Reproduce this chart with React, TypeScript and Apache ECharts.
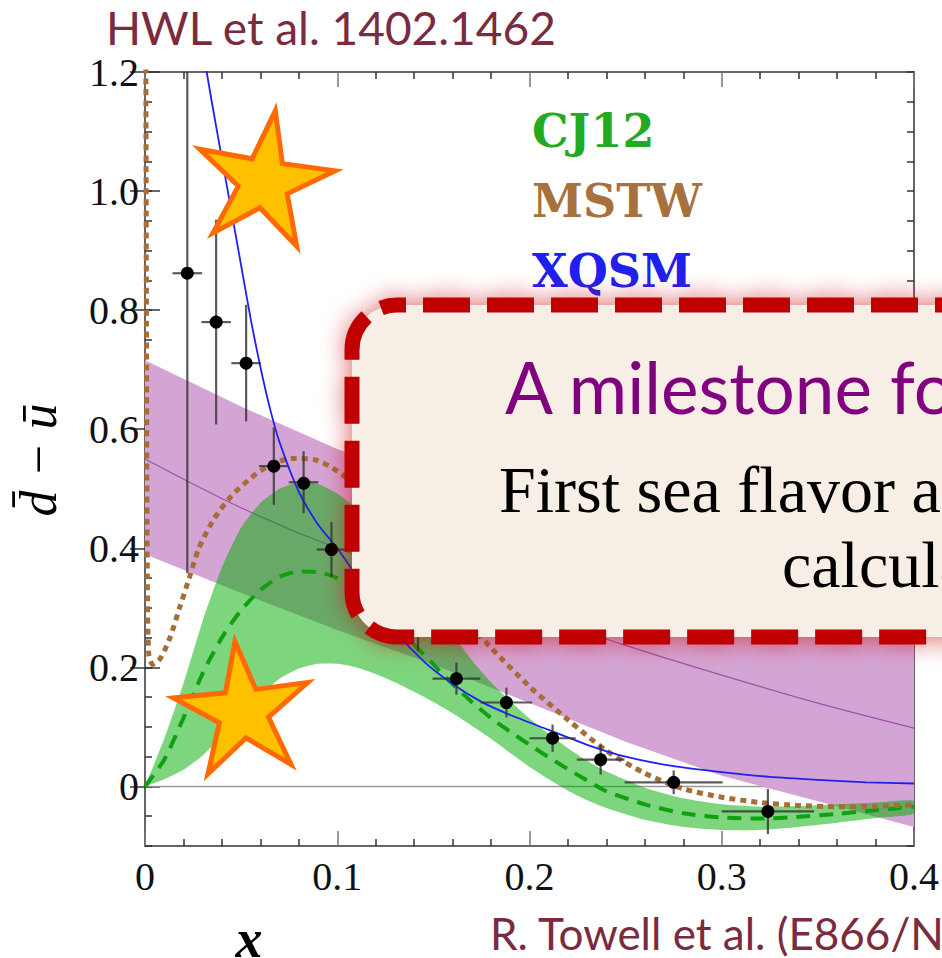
import React, { useEffect, useRef } from 'react';
import * as echarts from 'echarts';

// ---- E866 data points (Towell et al.) ----
const e866X = [0.022, 0.037, 0.0526, 0.067, 0.0825, 0.097, 0.112, 0.127, 0.142, 0.162, 0.188, 0.212, 0.237, 0.275, 0.324];
const e866Y = [0.862, 0.78, 0.711, 0.538, 0.511, 0.398, 0.34, 0.30, 0.262, 0.181, 0.141, 0.081, 0.045, 0.007, -0.042];
const e866YErr = [0.504, 0.172, 0.098, 0.065, 0.052, 0.046, 0.04, 0.037, 0.035, 0.027, 0.025, 0.023, 0.025, 0.02, 0.038];
const e866XErr = [0.0077, 0.0077, 0.0077, 0.0077, 0.0077, 0.0077, 0.0077, 0.0077, 0.0077, 0.0124, 0.0134, 0.012, 0.0124, 0.0255, 0.024];

// ---- CJ12 band ----
const cjX = [0, 0.01, 0.02, 0.03, 0.04, 0.05, 0.06, 0.07, 0.08, 0.09, 0.1, 0.11, 0.12, 0.13, 0.14, 0.15, 0.16, 0.17, 0.18, 0.19, 0.2, 0.21, 0.22, 0.23, 0.24, 0.26, 0.28, 0.3, 0.32, 0.34, 0.36, 0.38, 0.4];
const cjHi = [0, 0.08, 0.173, 0.278, 0.368, 0.435, 0.476, 0.5, 0.511, 0.508, 0.492, 0.466, 0.432, 0.392, 0.348, 0.302, 0.256, 0.212, 0.175, 0.143, 0.114, 0.088, 0.064, 0.043, 0.025, -0.002, -0.02, -0.03, -0.034, -0.033, -0.03, -0.027, -0.024];
const cjLo = [0, 0.012, 0.028, 0.052, 0.085, 0.12, 0.154, 0.181, 0.198, 0.206, 0.206, 0.2, 0.189, 0.175, 0.159, 0.142, 0.123, 0.102, 0.08, 0.056, 0.033, 0.012, -0.007, -0.023, -0.036, -0.056, -0.068, -0.073, -0.073, -0.068, -0.061, -0.053, -0.046];
const cjMid = [0, 0.045, 0.115, 0.19, 0.25, 0.296, 0.33, 0.352, 0.361, 0.36, 0.35, 0.33, 0.302, 0.271, 0.238, 0.205, 0.172, 0.142, 0.115, 0.092, 0.07, 0.049, 0.029, 0.01, -0.008, -0.03, -0.045, -0.052, -0.054, -0.051, -0.046, -0.04, -0.034];

// ---- Lattice (purple) band ----
const latX = [0, 0.05, 0.1, 0.15, 0.2, 0.25, 0.3, 0.35, 0.4];
const latHi = [0.716, 0.638, 0.567, 0.508, 0.455, 0.4, 0.35, 0.305, 0.265];
const latMid = [0.55, 0.468, 0.4, 0.345, 0.292, 0.237, 0.187, 0.14, 0.098];
const latLo = [0.39, 0.325, 0.263, 0.205, 0.14, 0.075, 0.018, -0.025, -0.068];

// ---- MSTW ----
const mstwX = [0.0004, 0.0008, 0.0012, 0.002, 0.004, 0.008, 0.013, 0.018, 0.023, 0.028, 0.036, 0.045, 0.054, 0.063, 0.076, 0.088, 0.096, 0.104, 0.12, 0.14, 0.16, 0.18, 0.2, 0.22, 0.24, 0.26, 0.28, 0.3, 0.32, 0.34, 0.36, 0.38, 0.4];
const mstwY = [1.3, 0.7, 0.35, 0.22, 0.205, 0.215, 0.25, 0.3, 0.35, 0.4, 0.45, 0.488, 0.515, 0.536, 0.551, 0.549, 0.538, 0.52, 0.463, 0.386, 0.306, 0.233, 0.168, 0.112, 0.06, 0.022, -0.004, -0.018, -0.027, -0.032, -0.034, -0.033, -0.031];

// ---- XQSM ----
const xqsmX = [0.03, 0.035, 0.04, 0.045, 0.05, 0.055, 0.06, 0.065, 0.07, 0.08, 0.09, 0.1, 0.115, 0.13, 0.145, 0.16, 0.175, 0.19, 0.21, 0.23, 0.25, 0.275, 0.3, 0.325, 0.35, 0.375, 0.4];
const xqsmY = [1.24, 1.145, 1.055, 0.965, 0.875, 0.785, 0.705, 0.635, 0.578, 0.495, 0.44, 0.4, 0.33, 0.262, 0.21, 0.172, 0.142, 0.12, 0.095, 0.07, 0.05, 0.034, 0.024, 0.016, 0.011, 0.007, 0.005];

const zeroLine = [[0, 0], [0.4, 0]];
const yTickValues = [0, 0.2, 0.4, 0.6, 0.8, 1.0, 1.2];
const legendItems = [
  { name: 'CJ12', color: '#22aa22' },
  { name: 'MSTW', color: '#a8703c' },
  { name: 'XQSM', color: '#2020ee' },
];

function starPoints(cx: number, cy: number, R: number, r: number, rotDeg: number) {
  const pts: number[][] = [];
  for (let i = 0; i < 10; i++) {
    const a = ((-90 + rotDeg + i * 36) * Math.PI) / 180;
    const rad = i % 2 === 0 ? R : r;
    pts.push([cx + rad * Math.cos(a), cy + rad * Math.sin(a)]);
  }
  return pts;
}

const pair = (xs: number[], ys: number[]) => xs.map((x, i) => [x, ys[i]]);

function bandSeries(name: string, xs: number[], lo: number[], hi: number[], color: string, z: number, smooth: number) {
  return {
    type: 'custom', name, xAxisIndex: 0, yAxisIndex: 0, clip: true, silent: true, z,
    data: xs.map((x, i) => [x, lo[i], hi[i]]),
    renderItem: (params: any, api: any) => {
      if (params.dataIndex !== 0) return { type: 'group', children: [] };
      const pts: number[][] = [];
      for (let i = 0; i < xs.length; i++) pts.push(api.coord([xs[i], hi[i]]));
      for (let i = xs.length - 1; i >= 0; i--) pts.push(api.coord([xs[i], lo[i]]));
      return { type: 'polygon', shape: { points: pts, smooth }, style: { fill: color } };
    },
  };
}

export default function App() {
  const ref = useRef<HTMLDivElement>(null);
  useEffect(() => {
    const chart = echarts.init(ref.current!, null, { renderer: 'svg' });
    const tickFont = { fontFamily: 'Liberation Serif', fontSize: 40, color: '#111' };
    const axisLineStyle = { color: '#333', width: 1.5 };
    const fmt = (v: number) => (Math.abs(v) < 1e-9 ? '0' : v.toFixed(1));
    const isMajorY = (v: number) => yTickValues.some((t) => Math.abs(t - v) < 1e-6);

    const xAxisBase = (pos: string, showLabel: boolean) => ({
      type: 'value', min: 0, max: 0.4, interval: 0.1, position: pos,
      axisLine: { show: true, onZero: false, lineStyle: axisLineStyle },
      axisTick: { show: true, inside: true, length: 15, lineStyle: { color: '#777', width: 1.5 } },
      minorTick: { show: true, splitNumber: 5, length: 7, lineStyle: { color: '#333', width: 1.5 } },
      axisLabel: showLabel ? { ...tickFont, margin: 10, formatter: fmt } : { show: false },
      splitLine: { show: false },
    });
    const yMinor = (pos: string, showLabel: boolean) => ({
      type: 'value', min: -0.1, max: 1.2, interval: 0.05, position: pos,
      axisLine: { show: true, onZero: false, lineStyle: axisLineStyle },
      axisTick: { show: true, inside: true, length: 7, lineStyle: { color: '#333', width: 1.5 } },
      axisLabel: showLabel ? { ...tickFont, margin: 6, formatter: (v: number) => (isMajorY(v) ? fmt(v) : '') } : { show: false },
      splitLine: { show: false },
    });
    const yMajor = (pos: string) => ({
      type: 'value', min: -0.1, max: 1.2, position: pos,
      axisLine: { show: false },
      axisTick: { show: true, inside: true, length: 15, customValues: yTickValues, lineStyle: { color: '#333', width: 1.5 } },
      axisLabel: { show: false },
      splitLine: { show: false },
    });

    const lineBase = { type: 'line', showSymbol: false, symbol: 'none', xAxisIndex: 0, yAxisIndex: 0, silent: true };

    const option: any = {
      animation: false,
      backgroundColor: '#ffffff',
      grid: { left: 145, top: 72, right: 23, bottom: 112 },
      xAxis: [xAxisBase('bottom', true), xAxisBase('top', false)],
      yAxis: [yMinor('left', true), yMajor('left'), yMinor('right', false), yMajor('right')],
      series: [
        { ...lineBase, name: 'zero', data: zeroLine, lineStyle: { color: '#999', width: 1.5 }, z: 1 },
        bandSeries('Lattice', latX, latLo, latHi, '#d4a5d4', 2, 0),
        { ...lineBase, name: 'Lattice central', smooth: 0.3, data: pair(latX, latMid), lineStyle: { color: '#a050a8', width: 1.2 }, z: 3 },
        bandSeries('CJ12 band', cjX, cjLo, cjHi, 'rgba(0,173,0,0.51)', 4, 0.2),
        { ...lineBase, name: 'CJ12', smooth: 0.25, data: pair(cjX, cjMid), lineStyle: { color: '#12a012', width: 4, type: [14, 9] }, z: 5 },
        { ...lineBase, name: 'MSTW', smooth: 0.25, data: pair(mstwX, mstwY), lineStyle: { color: '#a66d38', width: 5, type: [6, 5] }, z: 6 },
        { ...lineBase, name: 'XQSM', smooth: 0.25, data: pair(xqsmX, xqsmY), lineStyle: { color: '#2020f0', width: 1.8 }, z: 7 },
        {
          type: 'custom', name: 'E866', xAxisIndex: 0, yAxisIndex: 0, clip: true, z: 8, silent: true,
          data: e866X.map((x, i) => [x, e866Y[i], e866XErr[i], e866YErr[i]]),
          renderItem: (params: any, api: any) => {
            const x = api.value(0), y = api.value(1), ex = api.value(2), ey = api.value(3);
            const c = api.coord([x, y]);
            const t = api.coord([x, y + ey]);
            const b = api.coord([x, y - ey]);
            const l = api.coord([x - ex, y]);
            const r = api.coord([x + ex, y]);
            const st = { stroke: 'rgba(50,50,50,0.8)', lineWidth: 2.2 };
            return {
              type: 'group',
              children: [
                { type: 'line', shape: { x1: t[0], y1: t[1], x2: b[0], y2: b[1] }, style: st },
                { type: 'line', shape: { x1: l[0], y1: l[1], x2: r[0], y2: r[1] }, style: st },
                { type: 'circle', shape: { cx: c[0], cy: c[1], r: 6.5 }, style: { fill: '#000' } },
              ],
            };
          },
        },
      ],
      graphic: [
        { type: 'text', x: 106, y: 27, z: 50, style: { text: 'HWL et al. 1402.1462', fontFamily: 'Lato', fontSize: 46, fill: '#7a2b3e', align: 'left', verticalAlign: 'middle' } },
        { type: 'text', x: 490, y: 933, z: 50, style: { text: 'R. Towell et al. (E866/NuSea)', fontFamily: 'Lato', fontSize: 44, fill: '#7a2b3e', align: 'left', verticalAlign: 'middle' } },
        { type: 'text', x: 249, y: 939, z: 50, style: { text: 'x', fontFamily: 'Liberation Serif', fontStyle: 'italic', fontWeight: 'bold', fontSize: 54, fill: '#000', align: 'center', verticalAlign: 'middle' } },
        { type: 'text', x: 38, y: 460, rotation: Math.PI / 2, z: 50, style: { text: 'd\u0304 \u2212 u\u0304', fontFamily: 'Liberation Serif', fontStyle: 'italic', fontSize: 52, fill: '#000', align: 'center', verticalAlign: 'middle' } },
        ...legendItems.map((it, i) => ({ type: 'text', x: 532, y: 131 + i * 70, z: 50, style: { text: it.name, fontFamily: 'DejaVu Serif', fontWeight: 'bold', fontSize: 46, fill: it.color, align: 'left', verticalAlign: 'middle' } })),
        { type: 'polygon', z: 60, shape: { points: starPoints(264, 182, 72, 26, 9) }, style: { fill: '#ffc000', stroke: '#ff6a00', lineWidth: 5, lineJoin: 'miter' } },
        { type: 'polygon', z: 60, shape: { points: starPoints(243, 712, 71, 26, -6.5) }, style: { fill: '#ffc000', stroke: '#ff6a00', lineWidth: 5, lineJoin: 'miter' } },
        { type: 'rect', z: 100, shape: { x: 352, y: 305, width: 1136, height: 332, r: 45 }, style: { fill: '#f7efe6', stroke: '#c00000', lineWidth: 15, lineDash: [47, 17], lineDashOffset: 38, shadowBlur: 25, shadowColor: 'rgba(200,0,0,0.55)' } },
        { type: 'text', x: 505, y: 386, z: 101, style: { text: 'A milestone for lattice QCD', fontFamily: 'Lato', fontSize: 71, fill: '#800080', align: 'left', verticalAlign: 'middle' } },
        { type: 'text', x: 499, y: 489, z: 101, style: { text: 'First sea flavor asymmetry lattice', fontFamily: 'Liberation Serif', fontSize: 66, fill: '#000', align: 'left', verticalAlign: 'middle' } },
        { type: 'text', x: 782, y: 564, z: 101, style: { text: 'calculation', fontFamily: 'Liberation Serif', fontSize: 66, fill: '#000', align: 'left', verticalAlign: 'middle' } },
      ],
    };
    chart.setOption(option);
    return () => chart.dispose();
  }, []);
  return <div ref={ref} style={{ position: 'absolute', left: 0, top: 0, width: 942, height: 958, background: '#fff' }} />;
}
